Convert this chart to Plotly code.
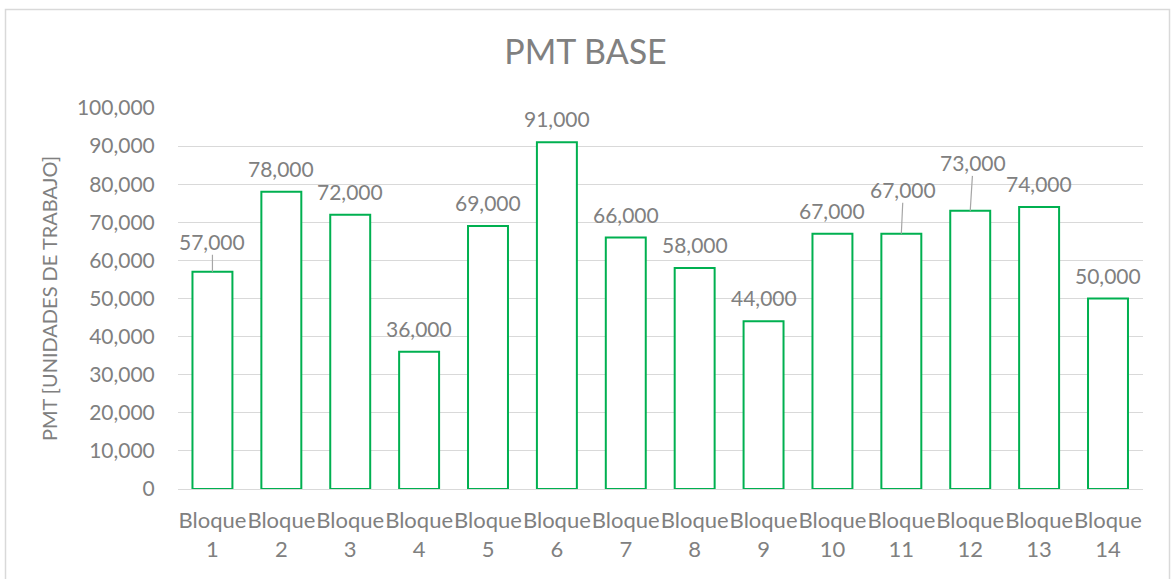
import plotly.graph_objects as go

categories = [f"Bloque<br>{i}" for i in range(1, 15)]
values = [57000, 78000, 72000, 36000, 69000, 91000, 66000, 58000, 44000,
          67000, 67000, 73000, 74000, 50000]
y_ticks = list(range(0, 100001, 10000))
y_tick_labels = [f"{v:,}" if v else "0" for v in y_ticks]
# label offsets (pixels) for labels drawn with leader lines
leader_offsets = {0: (0, -30), 10: (2, -44), 11: (3, -48)}

FONT = "Lato, Carlito, Calibri, sans-serif"
GRAY = "#808080"
GREEN = "#00B050"

fig = go.Figure()
fig.add_trace(go.Bar(
    x=categories, y=values,
    marker=dict(color="white", line=dict(color=GREEN, width=2)),
    width=0.58,
    hoverinfo="x+y",
))

annotations = []
for i, (c, v) in enumerate(zip(categories, values)):
    label = f"{v:,}"
    if i in leader_offsets:
        ax, ay = leader_offsets[i]
        annotations.append(dict(
            x=c, y=v, xref="x", yref="y", text=label,
            showarrow=True, arrowhead=0, arrowwidth=1.2, arrowcolor="#a6a6a6",
            ax=ax, ay=ay, standoff=0, startstandoff=0,
            font=dict(family=FONT, size=21, color=GRAY),
            borderpad=0,
        ))
    else:
        annotations.append(dict(
            x=c, y=v, xref="x", yref="y", text=label, showarrow=False,
            yanchor="bottom", yshift=9,
            font=dict(family=FONT, size=21, color=GRAY),
        ))

fig.update_layout(
    width=1171, height=579,
    margin=dict(l=178, r=28, t=108, b=90),
    paper_bgcolor="white", plot_bgcolor="white",
    title=dict(text="PMT BASE", x=0.5, xref="container", xanchor="center",
               y=1 - 52 / 579, yanchor="middle", yref="container",
               font=dict(family=FONT, size=34, color=GRAY)),
    font=dict(family=FONT, color=GRAY),
    showlegend=False,
    bargap=0.42,
    annotations=annotations,
    xaxis=dict(
        tickfont=dict(family=FONT, size=22, color=GRAY),
        tickangle=0,
        showline=True, linecolor="#d9d9d9", linewidth=1,
        ticks="", showgrid=False, ticklabelstandoff=12,
    ),
    yaxis=dict(
        range=[0, 100000],
        tickvals=y_ticks, ticktext=y_tick_labels,
        tickfont=dict(family=FONT, size=21, color=GRAY),
        showgrid=True, gridcolor="#d9d9d9", gridwidth=1,
        zeroline=False, showline=False, ticks="outside", ticklen=18, tickcolor="white",
        title=dict(text="PMT [UNIDADES DE TRABAJO]",
                   font=dict(family=FONT, size=20, color=GRAY), standoff=13),
    ),
    shapes=[dict(type="rect", xref="paper", yref="paper",
                 x0=(5.5 - 178) / 965, x1=(1169.5 - 178) / 965,
                 y0=-(600 - 489) / 381, y1=1 + (108 - 9.5) / 381,
                 line=dict(color="#d9d9d9", width=1.5), layer="below")],
)

fig.write_html("out.html", config={"displayModeBar": False},
               post_script="document.body.style.margin='0';document.body.style.overflow='hidden';")
